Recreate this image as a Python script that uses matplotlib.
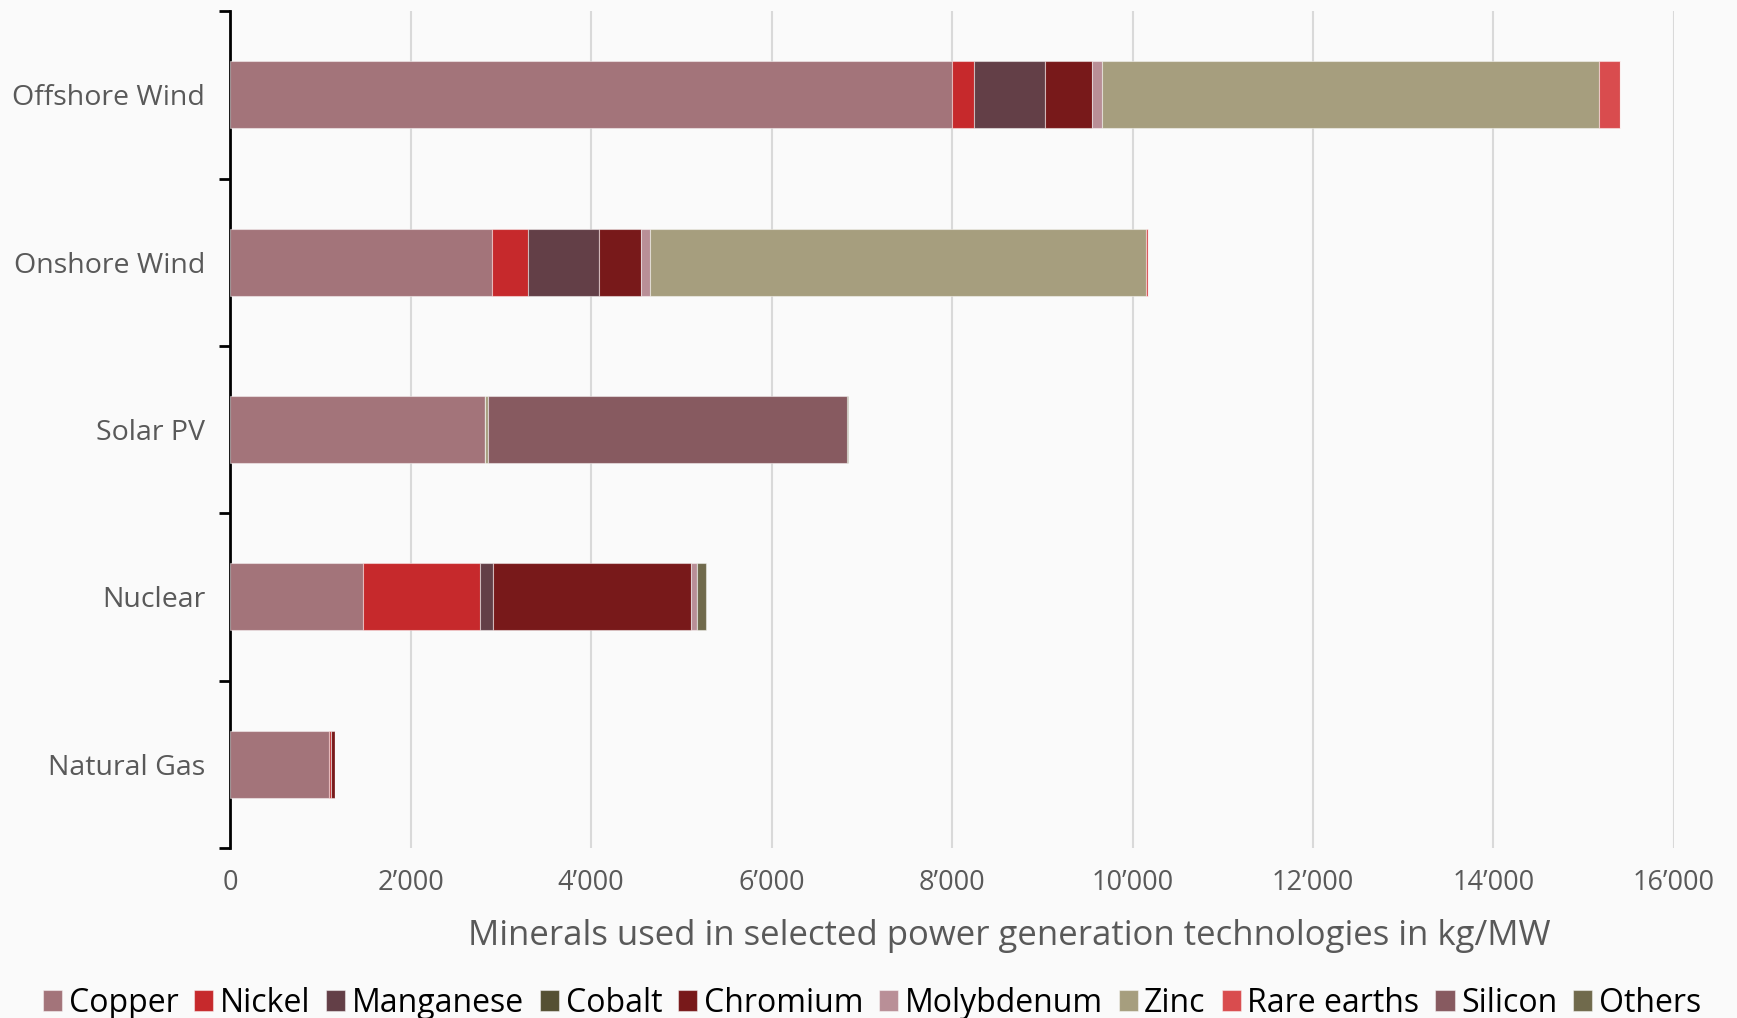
import matplotlib.pyplot as plt
from matplotlib.ticker import FuncFormatter, FixedLocator

# mineral intensity, kg per MW of capacity
technologies = ['Offshore Wind', 'Onshore Wind', 'Solar PV', 'Nuclear', 'Natural Gas']
minerals = ['Copper', 'Nickel', 'Manganese', 'Cobalt', 'Chromium',
            'Molybdenum', 'Zinc', 'Rare earths', 'Silicon', 'Others']

copper = [8000, 2900, 2822, 1473, 1100]
nickel = [240, 404, 0, 1297, 16]
manganese = [790, 780, 0, 148, 0]
cobalt = [0, 0, 0, 0, 0]
chromium = [525, 470, 0, 2190, 48]
molybdenum = [109, 99, 0, 70, 0]
zinc = [5500, 5500, 30, 0, 0]
rare_earths = [239, 14, 0, 0, 0]
silicon = [0, 0, 3980, 0, 0]
others = [0, 0, 10, 95, 0]

series = [copper, nickel, manganese, cobalt, chromium,
          molybdenum, zinc, rare_earths, silicon, others]
colors = ['#a3747a', '#c6292c', '#633f47', '#555033', '#78191a',
          '#b98f97', '#a69e7e', '#d94c4e', '#875a60', '#706a4c']

plt.rcParams['font.family'] = ['Open Sans', 'DejaVu Sans']

fig = plt.figure(figsize=(17.37, 10.18), dpi=100)
fig.patch.set_facecolor('#fafafa')
ax = fig.add_axes([0.1325, 0.167, 0.8312, 0.822])
ax.set_facecolor('#fafafa')

ypos = list(range(len(technologies)))[::-1]
left = [0] * len(technologies)
for name, vals, col in zip(minerals, series, colors):
    ax.barh(ypos, vals, left=left, height=0.4, color=col, label=name,
            edgecolor=(1, 1, 1, 0.45), linewidth=0.8, zorder=3)
    left = [l + v for l, v in zip(left, vals)]

ax.set_xlim(0, 16000)
ax.set_ylim(-0.5, 4.5)
ax.set_xticks(range(0, 16001, 2000))
ax.xaxis.set_major_formatter(FuncFormatter(lambda v, p: f'{int(v):,}'.replace(',', '\u2019')))
ax.grid(axis='x', color='#d9d9d9', linewidth=1.5, zorder=0)

ax.set_yticks(ypos)
ax.set_yticklabels(technologies)
ax.yaxis.set_minor_locator(FixedLocator([-0.5, 0.5, 1.5, 2.5, 3.5, 4.5]))
ax.tick_params(axis='y', which='major', length=0, pad=18, labelsize=20.5, labelcolor='#595959')
ax.tick_params(axis='y', which='minor', length=8, width=2, color='black', direction='out')
ax.tick_params(axis='x', length=0, pad=15, labelsize=19.5, labelcolor='#595959')

for s in ['top', 'right', 'bottom']:
    ax.spines[s].set_visible(False)
ax.spines['left'].set_linewidth(2)
ax.spines['left'].set_color('black')

ax.set_xlabel('Minerals used in selected power generation technologies in kg/MW',
              fontsize=25, color='#595959')
ax.xaxis.set_label_coords(0.54, -0.085)

leg = fig.legend(loc='lower center', bbox_to_anchor=(0.502, -0.03), ncol=10,
                 frameon=False, fontsize=23, handlelength=0.6, handleheight=0.6,
                 handletextpad=0.2, columnspacing=0.5)

fig.savefig('out.png', dpi=100, facecolor=fig.get_facecolor())
